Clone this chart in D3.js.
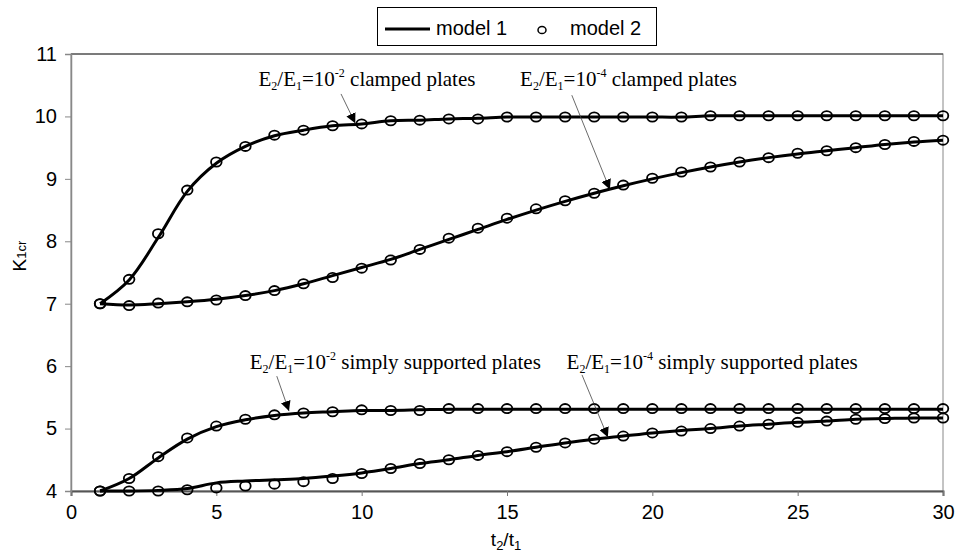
<!DOCTYPE html>
<html>
<head>
<meta charset="utf-8">
<script src="https://cdn.jsdelivr.net/npm/d3@7"></script>
<style>
  body { margin: 0; background: #fff; }
  svg { display: block; }
</style>
</head>
<body>
<svg id="canvas" width="961" height="556"></svg>
<script>
// t2/t1 ratios
let ratios = d3.range(1, 31)

// model 1 (solid line) and model 2 (circles), one pair per case
let clamped2Model1 = [7.0, 7.38, 8.06, 8.80, 9.25, 9.52, 9.69, 9.78, 9.85, 9.88, 9.93, 9.94, 9.96, 9.97, 9.99, 9.99, 9.99, 9.99, 9.99, 9.99, 9.99, 10.01, 10.01, 10.01, 10.01, 10.01, 10.01, 10.01, 10.01, 10.01]
let clamped2Model2 = [7.0, 7.39, 8.12, 8.82, 9.27, 9.52, 9.70, 9.78, 9.85, 9.88, 9.93, 9.94, 9.96, 9.96, 9.99, 9.99, 9.99, 9.99, 9.99, 9.99, 9.99, 10.01, 10.01, 10.01, 10.01, 10.01, 10.01, 10.01, 10.01, 10.01]

let clamped4Model1 = [7.0, 6.98, 7.0, 7.03, 7.07, 7.13, 7.21, 7.32, 7.45, 7.58, 7.71, 7.87, 8.03, 8.19, 8.35, 8.50, 8.64, 8.77, 8.89, 9.00, 9.10, 9.19, 9.27, 9.34, 9.40, 9.45, 9.50, 9.55, 9.59, 9.62]
let clamped4Model2 = [7.0, 6.97, 7.01, 7.03, 7.06, 7.13, 7.21, 7.32, 7.42, 7.57, 7.70, 7.87, 8.05, 8.21, 8.37, 8.52, 8.65, 8.77, 8.90, 9.01, 9.11, 9.19, 9.27, 9.34, 9.41, 9.45, 9.50, 9.55, 9.60, 9.62]

let simply2Model1 = [4.0, 4.20, 4.53, 4.83, 5.03, 5.14, 5.21, 5.25, 5.27, 5.29, 5.29, 5.30, 5.31, 5.31, 5.31, 5.31, 5.31, 5.31, 5.31, 5.31, 5.31, 5.31, 5.31, 5.31, 5.31, 5.31, 5.31, 5.31, 5.31, 5.31]
let simply2Model2 = [4.0, 4.20, 4.55, 4.85, 5.04, 5.15, 5.22, 5.25, 5.27, 5.30, 5.29, 5.29, 5.32, 5.32, 5.32, 5.32, 5.32, 5.32, 5.32, 5.32, 5.32, 5.32, 5.32, 5.32, 5.32, 5.32, 5.32, 5.32, 5.32, 5.32]

let simply4Model1 = [4.0, 4.0, 4.01, 4.04, 4.13, 4.16, 4.18, 4.20, 4.24, 4.29, 4.36, 4.44, 4.50, 4.57, 4.63, 4.70, 4.77, 4.83, 4.88, 4.93, 4.97, 5.00, 5.04, 5.07, 5.10, 5.12, 5.15, 5.16, 5.17, 5.17]
let simply4Model2 = [4.0, 4.0, 4.0, 4.02, 4.05, 4.08, 4.11, 4.15, 4.20, 4.28, 4.36, 4.44, 4.50, 4.57, 4.63, 4.70, 4.77, 4.83, 4.88, 4.93, 4.96, 5.00, 5.04, 5.07, 5.10, 5.12, 5.15, 5.16, 5.17, 5.17]

let xTicks = [0, 5, 10, 15, 20, 25, 30]
let yTicks = [4, 5, 6, 7, 8, 9, 10, 11]

let lineSeries = [clamped2Model1, clamped4Model1, simply2Model1, simply4Model1]
let circleSeries = [clamped2Model2, clamped4Model2, simply2Model2, simply4Model2]

// annotation labels: exponent, text, anchor position in data units, arrow start/end in data units
let notes = [
    {exp: '-2', text: ' clamped plates', x: 6.45, y: 10.49, from: [9.29, 10.36], to: [9.78, 9.89]},
    {exp: '-4', text: ' clamped plates', x: 15.45, y: 10.49, from: [17.23, 10.34], to: [18.54, 8.83]},
    {exp: '-2', text: ' simply supported plates', x: 6.15, y: 5.95, from: [7.08, 5.84], to: [7.50, 5.28]},
    {exp: '-4', text: ' simply supported plates', x: 17.05, y: 5.95, from: [17.58, 5.86], to: [18.47, 4.86]}
]

let canvas = d3.select('#canvas')

let xScale = d3.scaleLinear().domain([0, 30]).range([71, 943])
let yScale = d3.scaleLinear().domain([4, 11]).range([491, 54])

// plot frame
canvas.append('rect')
    .attr('x', xScale(0))
    .attr('y', yScale(11))
    .attr('width', xScale(30) - xScale(0))
    .attr('height', yScale(4) - yScale(11))
    .attr('fill', 'none')
    .attr('stroke', '#888')
    .attr('stroke-width', 1)

canvas.append('line')
    .attr('x1', xScale(0)).attr('x2', xScale(30))
    .attr('y1', yScale(11)).attr('y2', yScale(11))
    .attr('stroke', '#333')

// axes
let xAxis = d3.axisBottom(xScale).tickValues(xTicks).tickSize(5).tickPadding(9).tickFormat(d3.format('d'))
let yAxis = d3.axisLeft(yScale).tickValues(yTicks).tickSize(6).tickPadding(8).tickFormat(d3.format('d'))

canvas.append('g')
    .attr('transform', 'translate(0,' + yScale(4) + ')')
    .call(xAxis)
    .call(g => g.select('.domain').attr('stroke', '#555').attr('stroke-width', 2))
    .call(g => g.selectAll('.tick line').attr('stroke', '#777'))
    .call(g => g.selectAll('text').attr('font-family', 'Arial, "Liberation Sans"').attr('font-size', 20).attr('fill', '#000'))

canvas.append('g')
    .attr('transform', 'translate(' + xScale(0) + ',0)')
    .call(yAxis)
    .call(g => g.select('.domain').attr('stroke', '#888').attr('stroke-width', 1.5))
    .call(g => g.selectAll('.tick line').attr('stroke', '#888'))
    .call(g => g.selectAll('text').attr('font-family', 'Arial, "Liberation Sans"').attr('font-size', 20).attr('fill', '#000'))

// axis titles
let yTitle = canvas.append('text')
    .attr('transform', 'translate(26,256) rotate(-90)')
    .attr('text-anchor', 'middle')
    .attr('font-family', 'Arial, "Liberation Sans"')
    .attr('font-size', 19)
yTitle.append('tspan').text('K')
yTitle.append('tspan').attr('font-size', 13).text('1cr')

let xTitle = canvas.append('text')
    .attr('x', 506)
    .attr('y', 546)
    .attr('text-anchor', 'middle')
    .attr('font-family', 'Arial, "Liberation Sans"')
    .attr('font-size', 19)
xTitle.append('tspan').text('t')
xTitle.append('tspan').attr('font-size', 13).attr('dy', 4).text('2')
xTitle.append('tspan').attr('dy', -4).text('/t')
xTitle.append('tspan').attr('font-size', 13).attr('dy', 4).text('1')

// curves
let lineGen = d3.line()
    .x((d, i) => xScale(ratios[i]))
    .y((d) => yScale(d))
    .curve(d3.curveCatmullRom.alpha(0.5))

canvas.selectAll('path.model1')
    .data(lineSeries)
    .enter()
    .append('path')
    .attr('class', 'model1')
    .attr('d', lineGen)
    .attr('fill', 'none')
    .attr('stroke', '#000')
    .attr('stroke-width', 3)

circleSeries.forEach((series) => {
    canvas.append('g')
        .selectAll('ellipse')
        .data(series)
        .enter()
        .append('ellipse')
        .attr('cx', (d, i) => xScale(ratios[i]))
        .attr('cy', (d) => yScale(d))
        .attr('rx', 5.3)
        .attr('ry', 4.6)
        .attr('fill', 'none')
        .attr('stroke', '#000')
        .attr('stroke-width', 1.8)
})

// annotations
canvas.append('defs').append('marker')
    .attr('id', 'arrow')
    .attr('viewBox', '0 0 10 10')
    .attr('refX', 10)
    .attr('refY', 5)
    .attr('markerWidth', 10)
    .attr('markerHeight', 10)
    .attr('markerUnits', 'userSpaceOnUse')
    .attr('orient', 'auto')
    .append('path')
    .attr('d', 'M0,0 L10,5 L0,10 Z')
    .attr('fill', '#000')

notes.forEach((note) => {
    canvas.append('line')
        .attr('x1', xScale(note.from[0]))
        .attr('y1', yScale(note.from[1]))
        .attr('x2', xScale(note.to[0]))
        .attr('y2', yScale(note.to[1]))
        .attr('stroke', '#444')
        .attr('stroke-width', 0.8)
        .attr('marker-end', 'url(#arrow)')

    let label = canvas.append('text')
        .attr('x', xScale(note.x))
        .attr('y', yScale(note.y))
        .attr('font-family', '"Times New Roman", "Liberation Serif", serif')
        .attr('font-size', 21)
    label.append('tspan').text('E')
    label.append('tspan').attr('font-size', 12).attr('dy', 4).text('2')
    label.append('tspan').attr('dy', -4).text('/E')
    label.append('tspan').attr('font-size', 12).attr('dy', 4).text('1')
    label.append('tspan').attr('dy', -4).text('=10')
    label.append('tspan').attr('font-size', 12).attr('dy', -9).text(note.exp)
    label.append('tspan').attr('dy', 9).text(note.text)
})

// legend
let legend = canvas.append('g')
legend.append('rect')
    .attr('x', 377.5).attr('y', 7.5)
    .attr('width', 279).attr('height', 38)
    .attr('fill', '#fff')
    .attr('stroke', '#000')
    .attr('stroke-width', 1)
legend.append('line')
    .attr('x1', 385).attr('x2', 430)
    .attr('y1', 29).attr('y2', 29)
    .attr('stroke', '#000')
    .attr('stroke-width', 3)
legend.append('text')
    .attr('x', 436).attr('y', 35)
    .attr('font-family', 'Arial, "Liberation Sans"')
    .attr('font-size', 20)
    .text('model 1')
legend.append('ellipse')
    .attr('cx', 542).attr('cy', 30)
    .attr('rx', 4).attr('ry', 3.6)
    .attr('fill', 'none')
    .attr('stroke', '#000')
    .attr('stroke-width', 1.5)
legend.append('text')
    .attr('x', 570).attr('y', 35)
    .attr('font-family', 'Arial, "Liberation Sans"')
    .attr('font-size', 20)
    .text('model 2')
</script>
</body>
</html>
